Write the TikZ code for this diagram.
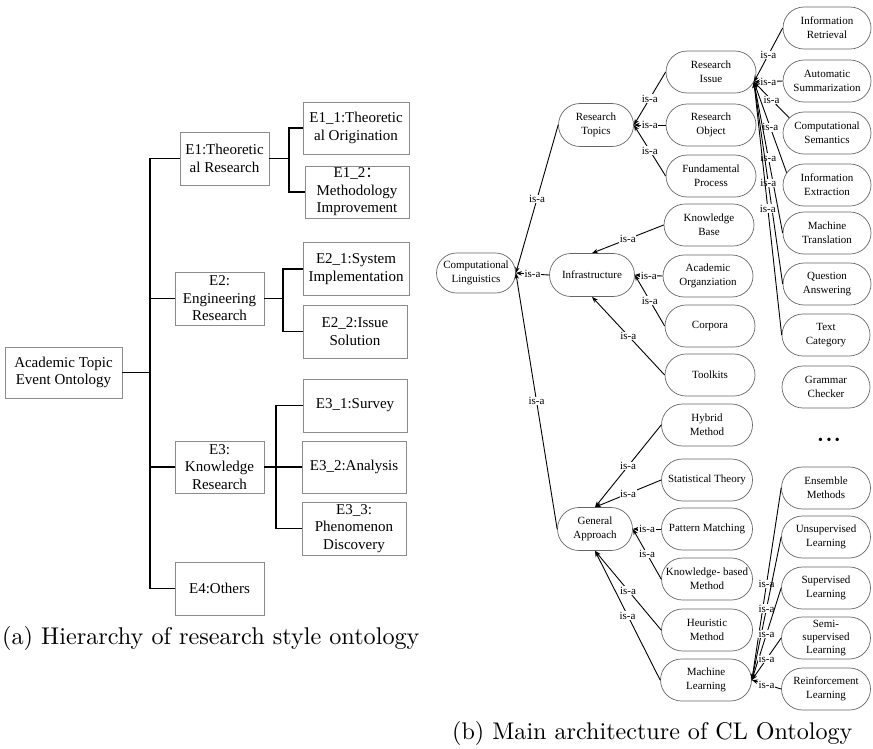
\documentclass[tikz,border=0pt]{standalone}
\usepackage{fontspec}
\newfontfamily\tnr{Liberation Serif}
\newfontfamily\cjk{Noto Sans CJK SC}
\usetikzlibrary{shapes.misc,arrows.meta}

\tikzset{
  box/.style={draw=black!45, line width=0.8pt, inner sep=1pt, align=center,
              font=\tnr\fontsize{15}{17.5}\selectfont},
  tree/.style={line width=1.6pt},
  pill/.style={rounded rectangle, draw=black!60, line width=0.7pt,
               minimum height=42pt, minimum width=92pt, inner sep=1pt, align=center,
               font=\tnr\fontsize{11}{14}\selectfont},
  isa/.style={-{Stealth[length=6pt,width=4.5pt]}, line width=0.9pt},
  lbl/.style={midway, fill=white, inner sep=0.6pt, font=\tnr\fontsize{11}{13}\selectfont},
}

\begin{document}
\begin{tikzpicture}[x=1pt,y=-1pt]
\useasboundingbox (0,0) rectangle (873,748);

% ---------------- (a) research style hierarchy ----------------
\node[box, minimum width=117pt, minimum height=51pt] (root) at (63.5,372.5) {Academic Topic\\Event Ontology};

\node[box, minimum width=89pt, minimum height=53pt] (E1) at (224.5,158.5) {E1:Theoretic\\al Research};
\node[box, minimum width=89pt, minimum height=53pt] (E2) at (219.5,298.5) {E2:\\Engineering\\Research};
\node[box, minimum width=89pt, minimum height=52pt] (E3) at (219.5,467) {E3:\\Knowledge\\Research};
\node[box, minimum width=89pt, minimum height=53pt] (E4) at (219.5,588.5) {E4:Others};

\node[box, minimum width=106pt, minimum height=52pt] (E11) at (356,128) {E1\_1:Theoretic\\al Origination};
\node[box, minimum width=104pt, minimum height=52pt] (E12) at (357,192) {E1\_2{\cjk ：}\\Methodology\\Improvement};
\node[box, minimum width=106pt, minimum height=53pt] (E21) at (356,269) {E2\_1:System\\Implementation};
\node[box, minimum width=104pt, minimum height=53pt] (E22) at (355,331.5) {E2\_2:Issue\\Solution};
\node[box, minimum width=104pt, minimum height=53pt] (E31) at (355,405.5) {E3\_1:Survey};
\node[box, minimum width=104pt, minimum height=52pt] (E32) at (354,467) {E3\_2:Analysis};
\node[box, minimum width=104pt, minimum height=53pt] (E33) at (354,528.5) {E3\_3:\\Phenomenon\\Discovery};

\coordinate (trunk) at (150,372.5);
\coordinate (b1) at (289,158.5);
\coordinate (b2) at (283,298.5);
\coordinate (b3) at (276,467);

\draw[tree] (root.east) -- (trunk);
\draw[tree] (trunk) |- (E1.west);
\draw[tree] (trunk) |- (E2.west);
\draw[tree] (trunk) |- (E3.west);
\draw[tree] (trunk) |- (E4.west);

\draw[tree] (E1.east) -- (b1);
\draw[tree] (b1) |- (E11.west);
\draw[tree] (b1) |- (E12.west);
\draw[tree] (E2.east) -- (b2);
\draw[tree] (b2) |- (E21.west);
\draw[tree] (b2) |- (E22.west);
\draw[tree] (E3.east) -- (b3);
\draw[tree] (b3) |- (E31.west);
\draw[tree] (b3) |- (E32.west);
\draw[tree] (b3) |- (E33.west);

\node[anchor=base west, inner sep=0pt] (capa) at (2,644)
  {\scalebox{2.42}{\fontsize{10}{12}\selectfont (a) Hierarchy of research style ontology}};

% ---------------- (b) CL ontology ----------------
\node[pill, minimum width=81pt, minimum height=40pt] (CL) at (476,273) {Computational\\Linguistics};
\node[pill, minimum width=77pt, minimum height=43pt] (RT) at (596,125) {Research\\Topics};
\node[pill, minimum width=87pt, minimum height=43pt] (IN) at (592,275) {Infrastructure};
\node[pill, minimum width=77pt, minimum height=43pt] (GA) at (595,529) {General\\Approach};

\node[pill] (RI) at (711,72) {Research\\Issue};
\node[pill] (RO) at (711,125) {Research\\Object};
\node[pill] (FP) at (711,176) {Fundamental\\Process};
\node[pill] (KB) at (709,225) {Knowledge\\Base};
\node[pill] (AO) at (708,276) {Academic\\Organziation};
\node[pill] (CO) at (710,326) {Corpora};
\node[pill] (TK) at (710,375) {Toolkits};
\node[pill, minimum width=93pt] (HM) at (707,425) {Hybrid\\Method};
\node[pill, minimum width=93pt] (ST) at (707,480) {Statistical Theory};
\node[pill, minimum width=93pt] (PM) at (707,529) {Pattern Matching};
\node[pill, minimum width=93pt] (KM) at (707,579) {Knowledge- based\\Method};
\node[pill, minimum width=93pt] (HE) at (707,630) {Heuristic\\Method};
\node[pill, minimum width=93pt] (ML) at (706,680) {Machine\\Learning};

\node[pill, minimum width=90pt] (IR) at (827,28) {Information\\Retrieval};
\node[pill, minimum width=90pt] (AS) at (827,81) {Automatic\\Summarization};
\node[pill, minimum width=90pt] (CS) at (827,133) {Computational\\Semantics};
\node[pill, minimum width=90pt] (IE) at (827,185) {Information\\Extraction};
\node[pill, minimum width=90pt] (MT) at (827,233) {Machine\\Translation};
\node[pill, minimum width=90pt] (QA) at (827,284) {Question\\Answering};
\node[pill, minimum width=90pt] (TC) at (826,335) {Text\\Category};
\node[pill, minimum width=90pt] (GC) at (826,387) {Grammar\\Checker};
\node[font=\tnr\fontsize{14}{16}\selectfont, inner sep=0pt] (dots) at (829,441)
  {•\hspace{3.5pt}•\hspace{3.5pt}•};

\node[pill, minimum width=91pt] (EM) at (826,488) {Ensemble\\Methods};
\node[pill, minimum width=91pt] (UL) at (826,537) {Unsupervised\\Learning};
\node[pill, minimum width=91pt] (SL) at (826,588) {Supervised\\Learning};
\node[pill, minimum width=91pt, font=\tnr\fontsize{11}{13}\selectfont] (SS) at (826,638) {Semi-\\supervised\\Learning};
\node[pill, minimum width=91pt] (RL) at (826,689) {Reinforcement\\Learning};

% is-a links, each pointing at the parent concept
\draw[isa] (RT.west) -- node[lbl]{is-a} (CL.east);
\draw[isa] (IN.west) -- node[lbl]{is-a} (CL.east);
\draw[isa] (GA.west) -- node[lbl]{is-a} (CL.east);

\draw[isa] (RI.west) -- node[lbl]{is-a} (RT.east);
\draw[isa] (RO.west) -- node[lbl]{is-a} (RT.east);
\draw[isa] (FP.west) -- node[lbl]{is-a} (RT.east);

\draw[isa] (KB.west) -- node[lbl]{is-a} (IN.north);
\draw[isa] (AO.west) -- node[lbl]{is-a} (IN.east);
\draw[isa] (CO.west) -- node[lbl]{is-a} (IN.east);
\draw[isa] (TK.west) -- node[lbl]{is-a} (IN.south);

\draw[isa] (HM.west) -- node[lbl]{is-a} (GA.north);
\draw[isa] (ST.west) -- node[lbl]{is-a} (GA.north);
\draw[isa] (PM.west) -- node[lbl]{is-a} (GA.east);
\draw[isa] (KM.west) -- node[lbl]{is-a} (GA.east);
\draw[isa] (HE.west) -- node[lbl]{is-a} (GA.south);
\draw[isa] (ML.west) -- node[lbl]{is-a} (GA.south);

\draw[isa] (IR.west) -- node[lbl]{is-a} (RI.-13);
\draw[isa] (AS.west) -- node[lbl]{is-a} (RI.-13);
\draw[isa] (CS.158) -- node[lbl]{is-a} (RI.-13);
\draw[isa] (IE.163) -- node[lbl]{is-a} (RI.-13);
\draw[isa] (MT.west) -- node[lbl]{is-a} (RI.-13);
\draw[isa] (QA.west) -- node[lbl]{is-a} (RI.-13);
\draw[isa] (TC.west) -- node[lbl]{is-a} (RI.-13);

\draw[isa] (EM.west) -- node[lbl]{is-a} (ML.east);
\draw[isa] (UL.west) -- node[lbl]{is-a} (ML.east);
\draw[isa] (SL.west) -- node[lbl]{is-a} (ML.east);
\draw[isa] (SS.west) -- node[lbl]{is-a} (ML.east);
\draw[isa] (RL.west) -- node[lbl]{is-a} (ML.east);

\node[anchor=base west, inner sep=0pt] (capb) at (452,739)
  {\scalebox{2.41}{\fontsize{10}{12}\selectfont (b) Main architecture of CL Ontology}};
\end{tikzpicture}
\end{document}
